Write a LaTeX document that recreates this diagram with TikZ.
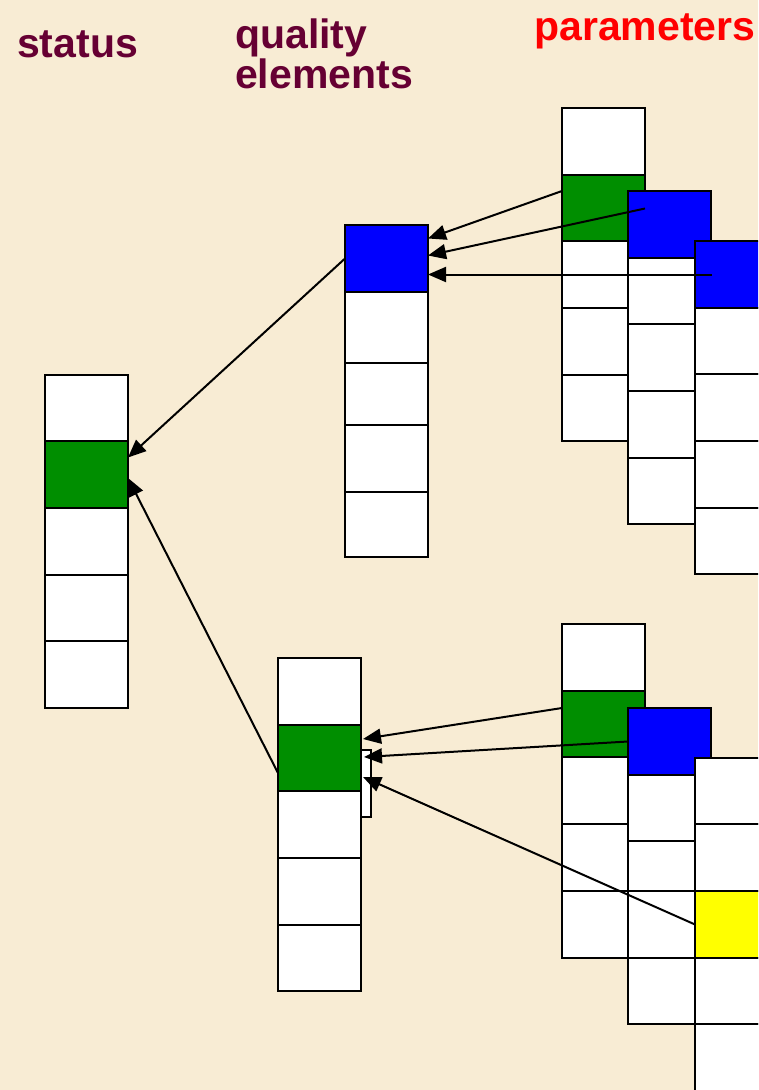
\documentclass[tikz,border=0pt]{standalone}
\usepackage{fontspec}
\setmainfont{Liberation Sans}
\usetikzlibrary{arrows.meta,calc}
\definecolor{bg}{RGB}{248,236,212}
\definecolor{maroon}{RGB}{102,0,51}
\definecolor{pgreen}{RGB}{0,142,0}
\definecolor{pblue}{RGB}{0,0,255}
\definecolor{pyellow}{RGB}{255,255,0}
\definecolor{pred}{RGB}{255,0,0}
\tikzset{
 cellst/.style={draw=black, line width=2.2pt, rectangle, inner sep=0pt, outer sep=0pt, minimum width=83pt},
 arr/.style={line width=2pt, -{Triangle[length=18pt,width=15pt]}},
 lbl/.style={anchor=base west, inner sep=0pt, font=\bfseries\fontsize{41}{41}\selectfont}
}
\newcommand\cellbox[5]{\node[cellst, fill=#5, minimum height={(#4-#3)*1pt}] (#1) at ({#2+41.5},{(#3+#4)/2}) {};}
\begin{document}
\begin{tikzpicture}[x=1pt,y=-1pt]
\fill[bg] (0,0) rectangle (758,1090);
\useasboundingbox (0,0) rectangle (758,1090);
\clip (0,0) rectangle (758,1090);
% labels
\node[lbl, text=maroon] (lstatus) at (17,57) {status};
\node[lbl, text=maroon] (lquality) at (235,48) {quality};
\node[lbl, text=maroon] (lelements) at (235,88) {elements};
\node[lbl, text=pred] (lparam) at (534,40) {parameters};
% status column
\cellbox{s1}{45}{375}{441}{white}
\cellbox{s2}{45}{441}{508}{pgreen}
\cellbox{s3}{45}{508}{575}{white}
\cellbox{s4}{45}{575}{641}{white}
\cellbox{s5}{45}{641}{708}{white}
% quality elements, top
\cellbox{qt1}{345}{225}{292}{pblue}
\cellbox{qt2}{345}{292}{363}{white}
\cellbox{qt3}{345}{363}{425}{white}
\cellbox{qt4}{345}{425}{492}{white}
\cellbox{qt5}{345}{492}{557}{white}
% quality elements, bottom
\node[draw=black, line width=1.8pt, fill=white, rectangle, inner sep=0pt, minimum width=10pt, minimum height=67pt] (tab) at (366,783.5) {};
\cellbox{qb1}{278}{658}{725}{white}
\cellbox{qb2}{278}{725}{791}{pgreen}
\cellbox{qb3}{278}{791}{858}{white}
\cellbox{qb4}{278}{858}{925}{white}
\cellbox{qb5}{278}{925}{991}{white}
% parameters, top group
\cellbox{pa1}{562}{108}{175}{white}
\cellbox{pa2}{562}{175}{241}{pgreen}
\cellbox{pa3}{562}{241}{308}{white}
\cellbox{pa4}{562}{308}{375}{white}
\cellbox{pa5}{562}{375}{441}{white}
\cellbox{pb1}{628}{191}{258}{pblue}
\cellbox{pb2}{628}{258}{324}{white}
\cellbox{pb3}{628}{324}{391}{white}
\cellbox{pb4}{628}{391}{458}{white}
\cellbox{pb5}{628}{458}{524}{white}
\cellbox{pc1}{695}{241}{308}{pblue}
\cellbox{pc2}{695}{308}{374}{white}
\cellbox{pc3}{695}{374}{441}{white}
\cellbox{pc4}{695}{441}{508}{white}
\cellbox{pc5}{695}{508}{574}{white}
% parameters, bottom group
\cellbox{ba1}{562}{624}{691}{white}
\cellbox{ba2}{562}{691}{757}{pgreen}
\cellbox{ba3}{562}{757}{824}{white}
\cellbox{ba4}{562}{824}{891}{white}
\cellbox{ba5}{562}{891}{958}{white}
\cellbox{bb1}{628}{708}{775}{pblue}
\cellbox{bb2}{628}{775}{841}{white}
\cellbox{bb3}{628}{841}{891}{white}
\cellbox{bb4}{628}{891}{958}{white}
\cellbox{bb5}{628}{958}{1024}{white}
\cellbox{bc1}{695}{758}{824}{white}
\cellbox{bc2}{695}{824}{891}{white}
\cellbox{bc3}{695}{891}{958}{pyellow}
\cellbox{bc4}{695}{958}{1024}{white}
\cellbox{bc5}{695}{1024}{1092}{white}
% arrows, top group
\draw[arr] ([yshift=17pt]pa2.west) -- ([yshift=20pt]qt1.east);
\draw[arr] ([xshift=17pt,yshift=16pt]pb1.west) -- ([yshift=3pt]qt1.east);
\draw[arr] ([xshift=17pt]pc1.west) -- ([yshift=-16pt]qt1.east);
\draw[arr] (qt1.west) -- ([yshift=17pt]s2.east);
\draw[arr] ([yshift=-15pt]qb2.west) -- ([yshift=-3.5pt]s2.east);
% arrows, bottom group
\draw[arr] ([yshift=16pt]ba2.west) -- ([xshift=2pt,yshift=19pt]qb2.east);
\draw[arr] (bb1.west) -- ([xshift=3pt,yshift=1pt]qb2.east);
\draw[arr] (bc3.west) -- ([xshift=2pt,yshift=-19pt]qb2.east);
\end{tikzpicture}
\end{document}
